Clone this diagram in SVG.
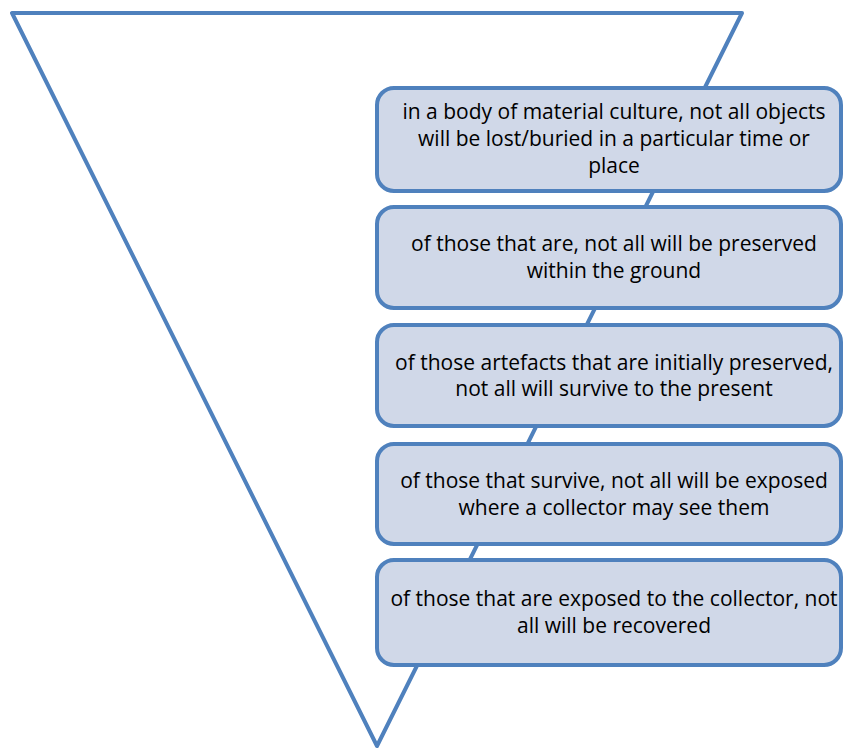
<svg xmlns="http://www.w3.org/2000/svg" width="844" height="749" viewBox="0 0 844 749">
<style>
.tri{fill:none;stroke:#4F81BD;stroke-width:4;stroke-linejoin:round}
.box{fill:#D0D8E8;stroke:#4F81BD;stroke-width:4}
.t{font-family:"Open Sans","Liberation Sans",sans-serif;font-size:21px;fill:#000;text-anchor:middle}
</style>
<rect width="844" height="749" fill="#FFFFFF"/>
<g id="funnel">
<polygon class="tri" points="12,13 742,13 377,746"/>
</g>
<g id="node1">
<rect class="box" x="377" y="88" width="464" height="103" rx="17"/>
<text class="t" x="614" y="119">in a body of material culture, not all objects</text>
<text class="t" x="614" y="146">will be lost/buried in a particular time or</text>
<text class="t" x="614" y="173">place</text>
</g>
<g id="node2">
<rect class="box" x="377" y="207" width="464" height="101" rx="17"/>
<text class="t" x="614" y="251">of those that are, not all will be preserved</text>
<text class="t" x="614" y="278">within the ground</text>
</g>
<g id="node3">
<rect class="box" x="377" y="325" width="464" height="101" rx="17"/>
<text class="t" x="614" y="370">of those artefacts that are initially preserved,</text>
<text class="t" x="614" y="396">not all will survive to the present</text>
</g>
<g id="node4">
<rect class="box" x="377" y="444" width="464" height="100" rx="17"/>
<text class="t" x="614" y="488">of those that survive, not all will be exposed</text>
<text class="t" x="614" y="515">where a collector may see them</text>
</g>
<g id="node5">
<rect class="box" x="377" y="560" width="464" height="105" rx="17"/>
<text class="t" x="614" y="606">of those that are exposed to the collector, not</text>
<text class="t" x="614" y="633">all will be recovered</text>
</g>
</svg>
